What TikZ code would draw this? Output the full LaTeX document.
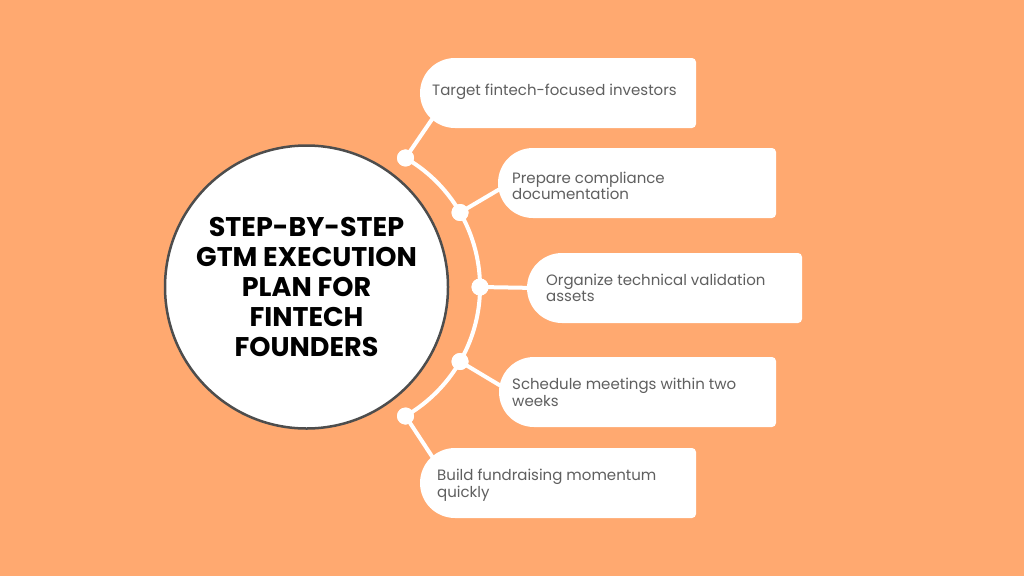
\documentclass[tikz,border=0pt]{standalone}
\usepackage{fontspec}
\setmainfont{Poppins}
\usetikzlibrary{calc}
\definecolor{bgorange}{RGB}{255,169,112}
\definecolor{ringgray}{RGB}{77,77,77}
\definecolor{txtgray}{RGB}{95,95,95}
\newcommand\pillfill[1]{%
  \fill[white] ([xshift=35pt]#1.north west) -- ([xshift=-4pt]#1.north east)
    arc[start angle=90,end angle=0,radius=4pt] -- ([yshift=4pt]#1.south east)
    arc[start angle=0,end angle=-90,radius=4pt] -- ([xshift=35pt]#1.south west)
    arc[start angle=270,end angle=90,radius=35pt] -- cycle;}
\begin{document}
\begin{tikzpicture}[x=1pt,y=1pt,
  box/.style={minimum height=70pt, inner sep=0pt, outer sep=0pt},
  itemtext/.style={anchor=west, inner sep=0pt, align=left, text=txtgray,
    font=\fontsize{15}{16.5}\selectfont},
  dot/.style={circle, fill=white, minimum size=17pt, inner sep=0pt},
  link/.style={white, line width=4pt}]
\fill[bgorange] (0,0) rectangle (1024,-576);
\useasboundingbox (0,0) rectangle (1024,-576);

% boxes (placeholders)
\node[box, minimum width=276pt] (b1) at (558,-93) {};
\node[box, minimum width=278pt] (b2) at (637,-183) {};
\node[box, minimum width=275pt] (b3) at (664.5,-288) {};
\node[box, minimum width=277pt] (b4) at (637.5,-392) {};
\node[box, minimum width=276pt] (b5) at (558,-483) {};

% arc and dots
\coordinate (arcc) at (331,-287);
\node[dot] (d1) at ($(arcc)+(60:149pt)$) {};
\node[dot] (d2) at ($(arcc)+(30:149pt)$) {};
\node[dot] (d3) at ($(arcc)+(0:149pt)$) {};
\node[dot] (d4) at ($(arcc)+(-30:149pt)$) {};
\node[dot] (d5) at ($(arcc)+(-60:149pt)$) {};

\draw[link] (d1.center) arc[start angle=60, end angle=-60, radius=149pt];
\draw[link] (d1.center) -- ([xshift=17pt,yshift=16pt]b1.south west);
\draw[link] (d2.center) -- ([xshift=12pt]b2.west);
\draw[link] (d3.center) -- ([xshift=10pt]b3.west);
\draw[link] (d4.center) -- ([xshift=12pt]b4.west);
\draw[link] (d5.center) -- ([xshift=17pt,yshift=-16pt]b5.north west);

\pillfill{b1}
\pillfill{b2}
\pillfill{b3}
\pillfill{b4}
\pillfill{b5}

\foreach \d in {d1,d2,d3,d4,d5} \fill[white] (\d) circle[radius=8.5pt];

% texts
\node[itemtext] (t1) at (432,-92) {Target fintech-focused investors};
\node[itemtext] (t2) at (512,-186) {Prepare compliance\\documentation};
\node[itemtext] (t3) at (546,-288) {Organize technical validation\\assets};
\node[itemtext] (t4) at (512,-392.5) {Schedule meetings within two\\weeks};
\node[itemtext] (t5) at (437,-485) {Build fundraising momentum\\quickly};

% central circle
\node[circle, fill=white, draw=ringgray, line width=2.5pt, minimum size=283pt,
  inner sep=0pt, align=center, font=\fontsize{27}{30}\selectfont\bfseries]
  (title) at (306.5,-287)
  {STEP-BY-STEP\\GTM EXECUTION\\PLAN FOR\\FINTECH\\FOUNDERS};
\end{tikzpicture}
\end{document}
